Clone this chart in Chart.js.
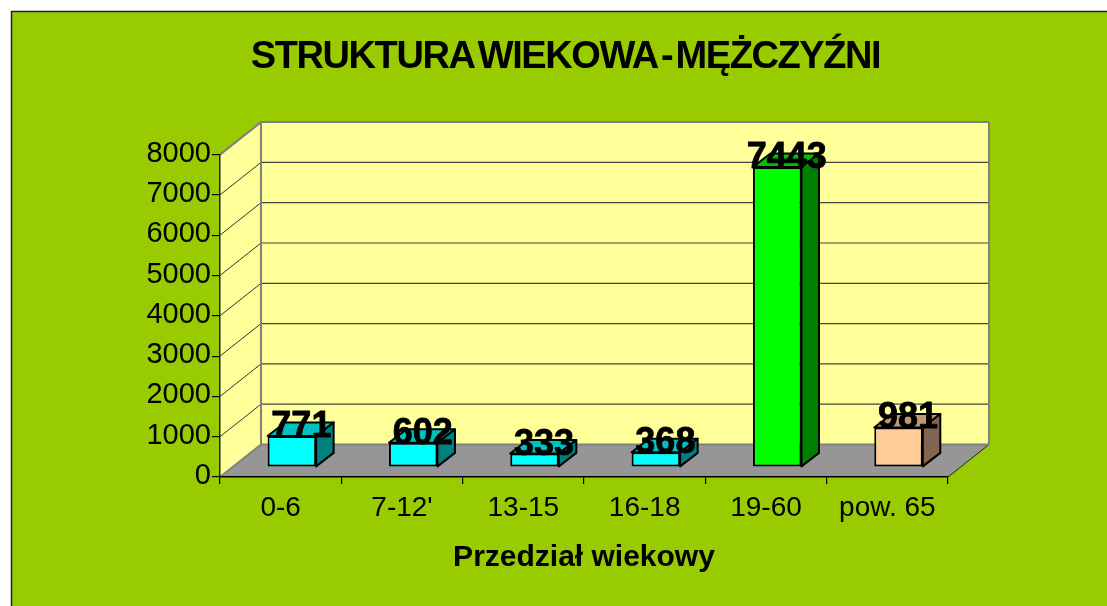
<!DOCTYPE html>
<html>
<head>
<meta charset="utf-8">
<title>Struktura wiekowa</title>
<style>
    html, body { margin: 0; padding: 0; background: #fff; }
    canvas { display: block; }
</style>
<script src="https://cdn.jsdelivr.net/npm/chart.js@4"></script>
</head>
<body>
<canvas id="chart" width="1107" height="606"></canvas>
<script>
const categories = ['0-6', "7-12'", '13-15', '16-18', '19-60', 'pow. 65'];
const values = [771, 602, 333, 368, 7443, 981];

const frontColors = ['#00ffff', '#00ffff', '#00ffff', '#00ffff', '#00ff00', '#ffcc99'];
const topColors = ['#00c0c0', '#00c0c0', '#00c0c0', '#00c0c0', '#00c000', '#c09973'];
const sideColors = ['#008080', '#008080', '#008080', '#008080', '#008000', '#806650'];

const FONT = '"Liberation Sans", Arial, sans-serif';

// room depth of the fake 3d box, and where the bars stand inside it
const wallX = 41, wallY = 32.5;
const barShiftX = 11.2, barShiftY = 10;
const barDepthX = 17.5, barDepthY = 13.5;

function poly(ctx, pts, fill, stroke, width) {
    ctx.beginPath();
    pts.forEach((p, i) => i ? ctx.lineTo(p[0], p[1]) : ctx.moveTo(p[0], p[1]));
    ctx.closePath();
    if (fill) { ctx.fillStyle = fill; ctx.fill(); }
    if (stroke) { ctx.strokeStyle = stroke; ctx.lineWidth = width; ctx.stroke(); }
}

function line(ctx, x1, y1, x2, y2, color, width) {
    ctx.beginPath();
    ctx.moveTo(x1, y1);
    ctx.lineTo(x2, y2);
    ctx.strokeStyle = color;
    ctx.lineWidth = width;
    ctx.stroke();
}

const room3d = {
    id: 'room3d',
    beforeDraw(chart) {
        const ctx = chart.ctx, a = chart.chartArea, y = chart.scales.y;

        // tighter title, and centred over the picture not the plot
        if (!chart.titleBlock.wrapped) {
            const drawTitle = chart.titleBlock.draw;
            chart.titleBlock.draw = function () {
                ctx.save();
                ctx.translate(91.5, 0);
                ctx.letterSpacing = '-1.4px';
                ctx.wordSpacing = '-6px';
                drawTitle.call(this);
                ctx.restore();
            };
            chart.titleBlock.wrapped = true;
        }

        ctx.save();
        // page frame
        ctx.fillStyle = '#99cc00';
        ctx.fillRect(12, 12, chart.width - 12, chart.height - 12);
        line(ctx, 11.5, 11, 11.5, chart.height, '#222', 1.5);
        line(ctx, 11, 11.5, chart.width, 11.5, '#222', 1.5);

        const bx = a.left + wallX, bxr = a.right + wallX;
        const top = a.top - wallY, bot = a.bottom - wallY;

        poly(ctx, [[bx, top], [bxr, top], [bxr, bot], [bx, bot]], '#ffff99');
        poly(ctx, [[a.left, a.top], [bx, top], [bx, bot], [a.left, a.bottom]], '#ffff99');
        poly(ctx, [[a.left, a.bottom], [a.right, a.bottom], [bxr, bot], [bx, bot]], '#969696');

        y.ticks.forEach(t => {
            if (t.value === 0 || t.value === y.max) return;
            const py = y.getPixelForValue(t.value);
            line(ctx, a.left, py, bx, py - wallY, '#333', 1);
            line(ctx, bx, py - wallY, bxr, py - wallY, '#444', 1.2);
        });

        line(ctx, a.left, a.top, bx, top, '#808080', 2);
        line(ctx, a.left, a.bottom, bx, bot, '#808080', 2);
        line(ctx, a.right, a.bottom, bxr, bot, '#222', 1);
        line(ctx, bx, bot, bxr, bot, '#808080', 2);
        line(ctx, bx, top, bxr, top, '#808080', 2);
        line(ctx, bx, top, bx, bot, '#808080', 2);
        line(ctx, bxr, top, bxr, bot, '#808080', 2);
        ctx.restore();
    },
    beforeDatasetDraw(chart, args) {
        const ctx = chart.ctx;
        ctx.save();
        ctx.translate(barShiftX, -barShiftY);
        chart.getDatasetMeta(args.index).data.forEach((bar, i) => {
            const l = bar.x - bar.width / 2, r = bar.x + bar.width / 2;
            ctx.lineJoin = 'round';
            poly(ctx, [[l, bar.y], [r, bar.y], [r + barDepthX, bar.y - barDepthY], [l + barDepthX, bar.y - barDepthY]], topColors[i], '#000', 2);
            poly(ctx, [[r, bar.y], [r + barDepthX, bar.y - barDepthY], [r + barDepthX, bar.base - barDepthY], [r, bar.base]], sideColors[i], '#000', 2);
        });
    },
    afterDatasetDraw(chart, args) {
        const ctx = chart.ctx;
        // value labels sit on the front top edge, pushed to the right
        ctx.font = 'bold 36px ' + FONT;
        ctx.textAlign = 'center';
        ctx.textBaseline = 'alphabetic';
        ctx.fillStyle = '#000';
        ctx.strokeStyle = '#000';
        ctx.lineWidth = 0.8;
        chart.getDatasetMeta(args.index).data.forEach((bar, i) => {
            ctx.fillText(String(values[i]), bar.x + 9.5, bar.y + 1);
            ctx.strokeText(String(values[i]), bar.x + 9.5, bar.y + 1);
        });
        ctx.restore();
    }
};

const myChart = new Chart(document.getElementById('chart'), {
    type: 'bar',
    data: {
        labels: categories,
        datasets: [{
            data: values,
            backgroundColor: frontColors,
            borderColor: '#000',
            borderWidth: 2,
            borderSkipped: false,
            barPercentage: 0.4,
            categoryPercentage: 1,
            clip: false
        }]
    },
    plugins: [room3d],
    options: {
        responsive: false,
        animation: false,
        layout: { padding: { left: 0, right: 159, top: 0, bottom: 0 } },
        plugins: {
            legend: { display: false },
            tooltip: { enabled: false },
            title: {
                display: true,
                text: 'STRUKTURA WIEKOWA - MĘŻCZYŹNI',
                color: '#000',
                font: { family: FONT, size: 38, weight: 'bold', lineHeight: 1.2 },
                padding: { top: 35, bottom: 74 }
            }
        },
        scales: {
            x: {
                afterFit: s => { s.height = 129; },
                border: { color: '#000', width: 1.5 },
                grid: { drawOnChartArea: false, color: '#000', tickColor: '#000', tickLength: 7, lineWidth: 1.2 },
                ticks: { color: '#000', padding: 7, maxRotation: 0, font: { family: FONT, size: 28 } },
                title: {
                    display: true,
                    text: 'Przedział wiekowy',
                    color: '#000',
                    font: { family: FONT, size: 30, weight: 'bold', lineHeight: 1.2 },
                    padding: { top: 0, bottom: 30 }
                }
            },
            y: {
                min: 0,
                max: 8000,
                afterFit: s => { s.width = 220; },
                border: { color: '#222', width: 1.5 },
                grid: { drawOnChartArea: false, color: '#000', tickColor: '#000', tickLength: 8, lineWidth: 1.2 },
                ticks: {
                    stepSize: 1000,
                    color: '#000',
                    padding: 1,
                    labelOffset: -1,
                    font: { family: FONT, size: 29 },
                    callback: v => String(v)
                }
            }
        }
    }
});
</script>
</body>
</html>
